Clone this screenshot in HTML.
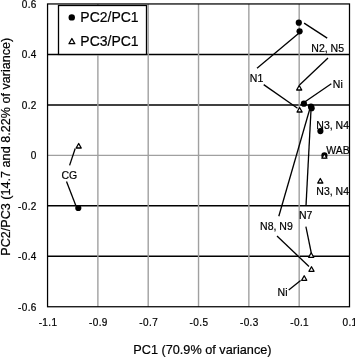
<!DOCTYPE html>
<html><head><meta charset="utf-8"><style>
html,body{margin:0;padding:0;background:#fff;overflow:hidden}
#w{width:355px;height:357px;filter:grayscale(1)}
svg{display:block;font-family:"Liberation Sans",sans-serif;fill:#000}
text{stroke:#000;stroke-width:0.2px}
</style></head><body><div id="w">
<svg width="355" height="357" viewBox="0 0 355 357">
<rect width="355" height="357" fill="#fff"/>
<line x1="47.55" y1="54.42" x2="349.5" y2="54.42" stroke="#000" stroke-width="1.5"/>
<line x1="47.55" y1="104.88" x2="349.5" y2="104.88" stroke="#000" stroke-width="1.5"/>
<line x1="47.55" y1="205.82" x2="349.5" y2="205.82" stroke="#000" stroke-width="1.5"/>
<line x1="47.55" y1="256.28" x2="349.5" y2="256.28" stroke="#000" stroke-width="1.5"/>
<line x1="47.55" y1="155.35" x2="349.5" y2="155.35" stroke="#a0a0a0" stroke-width="1.4"/>
<line x1="97.88" y1="3.95" x2="97.88" y2="306.75" stroke="#a0a0a0" stroke-width="1.4"/>
<line x1="148.20" y1="3.95" x2="148.20" y2="306.75" stroke="#a0a0a0" stroke-width="1.4"/>
<line x1="198.53" y1="3.95" x2="198.53" y2="306.75" stroke="#a0a0a0" stroke-width="1.4"/>
<line x1="248.85" y1="3.95" x2="248.85" y2="306.75" stroke="#a0a0a0" stroke-width="1.4"/>
<line x1="299.18" y1="3.95" x2="299.18" y2="306.75" stroke="#a0a0a0" stroke-width="1.4"/>
<rect x="47.55" y="3.95" width="301.95" height="302.80" fill="none" stroke="#000" stroke-width="1.25"/>
<rect x="58.5" y="5.5" width="88" height="48.92" fill="#fff" stroke="#000" stroke-width="1.3"/>
<circle cx="71.75" cy="17.4" r="3.2"/>
<path d="M71.90,38.52 L74.83,43.70 L68.97,43.70 Z" fill="#fff" stroke="#000" stroke-width="1.3" stroke-linejoin="round"/>
<text x="80.3" y="21.7" font-size="14">PC2/PC1</text>
<text x="80.3" y="45.8" font-size="14">PC3/PC1</text>
<line x1="304.1" y1="23.1" x2="327.2" y2="38.1" stroke="#000" stroke-width="1.3"/>
<line x1="257" y1="68.2" x2="298.5" y2="33.4" stroke="#000" stroke-width="1.3"/>
<line x1="263.7" y1="84.6" x2="297.5" y2="108.2" stroke="#000" stroke-width="1.3"/>
<line x1="299.5" y1="85" x2="328" y2="58" stroke="#000" stroke-width="1.3"/>
<line x1="331.3" y1="83.7" x2="304.3" y2="102.3" stroke="#000" stroke-width="1.3"/>
<line x1="311" y1="110" x2="306" y2="205.6" stroke="#000" stroke-width="1.3"/>
<line x1="309.5" y1="110" x2="278.8" y2="216.2" stroke="#000" stroke-width="1.3"/>
<line x1="305.9" y1="226.6" x2="311.3" y2="253" stroke="#000" stroke-width="1.3"/>
<line x1="277" y1="236" x2="309" y2="266.5" stroke="#000" stroke-width="1.3"/>
<line x1="288.7" y1="290" x2="300.6" y2="280.5" stroke="#000" stroke-width="1.3"/>
<line x1="75.2" y1="148.5" x2="69.6" y2="165.4" stroke="#000" stroke-width="1.3"/>
<line x1="66.5" y1="181.5" x2="75.8" y2="205.4" stroke="#000" stroke-width="1.3"/>
<circle cx="298.8" cy="22.7" r="3.1"/>
<circle cx="299.6" cy="31.3" r="3.1"/>
<circle cx="303.9" cy="103.7" r="3.1"/>
<circle cx="311.0" cy="106.6" r="3.1"/>
<circle cx="311.6" cy="108.2" r="3.1"/>
<circle cx="320.4" cy="131.1" r="3.1"/>
<circle cx="324.4" cy="155.4" r="3.1"/>
<circle cx="78.3" cy="208.0" r="3.1"/>
<path d="M78.70,143.50 L81.25,148.00 L76.15,148.00 Z" fill="#fff" stroke="#000" stroke-width="1.3" stroke-linejoin="round"/>
<path d="M299.20,85.50 L301.75,90.00 L296.65,90.00 Z" fill="#fff" stroke="#000" stroke-width="1.3" stroke-linejoin="round"/>
<path d="M299.60,107.50 L302.15,112.00 L297.05,112.00 Z" fill="#fff" stroke="#000" stroke-width="1.3" stroke-linejoin="round"/>
<path d="M324.40,153.70 L326.95,158.20 L321.85,158.20 Z" fill="#fff" stroke="#000" stroke-width="1.3" stroke-linejoin="round"/>
<path d="M320.30,178.50 L322.85,183.00 L317.75,183.00 Z" fill="#fff" stroke="#000" stroke-width="1.3" stroke-linejoin="round"/>
<path d="M311.20,252.80 L313.75,257.30 L308.65,257.30 Z" fill="#fff" stroke="#000" stroke-width="1.3" stroke-linejoin="round"/>
<path d="M311.50,266.80 L314.05,271.30 L308.95,271.30 Z" fill="#fff" stroke="#000" stroke-width="1.3" stroke-linejoin="round"/>
<path d="M304.20,275.80 L306.75,280.30 L301.65,280.30 Z" fill="#fff" stroke="#000" stroke-width="1.3" stroke-linejoin="round"/>
<text x="311.3" y="51.9" font-size="10.5">N2, N5</text>
<text x="249.8" y="82.4" font-size="10.5">N1</text>
<text x="332.8" y="88" font-size="10.5">Ni</text>
<text x="316.3" y="128.9" font-size="10.5">N3, N4</text>
<text x="326.2" y="153.6" font-size="10.5">WAB</text>
<text x="316.3" y="195.1" font-size="10.5">N3, N4</text>
<text x="299.0" y="219" font-size="10.5">N7</text>
<text x="260.1" y="230.4" font-size="10.5">N8, N9</text>
<text x="277.6" y="296.3" font-size="10.5">Ni</text>
<text x="61.4" y="178.8" font-size="10.5">CG</text>
<text x="36.80" y="7.85" font-size="10" letter-spacing="0.4" text-anchor="end">0.6</text>
<text x="36.80" y="58.32" font-size="10" letter-spacing="0.4" text-anchor="end">0.4</text>
<text x="36.80" y="108.78" font-size="10" letter-spacing="0.4" text-anchor="end">0.2</text>
<text x="36.80" y="159.25" font-size="10" letter-spacing="0.4" text-anchor="end">0</text>
<text x="36.80" y="209.72" font-size="10" letter-spacing="0.4" text-anchor="end">-0.2</text>
<text x="36.80" y="260.18" font-size="10" letter-spacing="0.4" text-anchor="end">-0.4</text>
<text x="36.80" y="310.65" font-size="10" letter-spacing="0.4" text-anchor="end">-0.6</text>
<text x="48.05" y="326.2" font-size="10" letter-spacing="0.4" text-anchor="middle">-1.1</text>
<text x="98.38" y="326.2" font-size="10" letter-spacing="0.4" text-anchor="middle">-0.9</text>
<text x="148.70" y="326.2" font-size="10" letter-spacing="0.4" text-anchor="middle">-0.7</text>
<text x="199.03" y="326.2" font-size="10" letter-spacing="0.4" text-anchor="middle">-0.5</text>
<text x="249.35" y="326.2" font-size="10" letter-spacing="0.4" text-anchor="middle">-0.3</text>
<text x="299.68" y="326.2" font-size="10" letter-spacing="0.4" text-anchor="middle">-0.1</text>
<text x="350.00" y="326.2" font-size="10" letter-spacing="0.4" text-anchor="middle">0.1</text>
<text x="133.3" y="353.8" font-size="12.7">PC1 (70.9% of variance)</text>
<text transform="translate(9.6,255.7) rotate(-90)" x="0" y="0" font-size="12.62">PC2/PC3 (14.7 and 8.22% of variance)</text>
</svg>
</div></body></html>
